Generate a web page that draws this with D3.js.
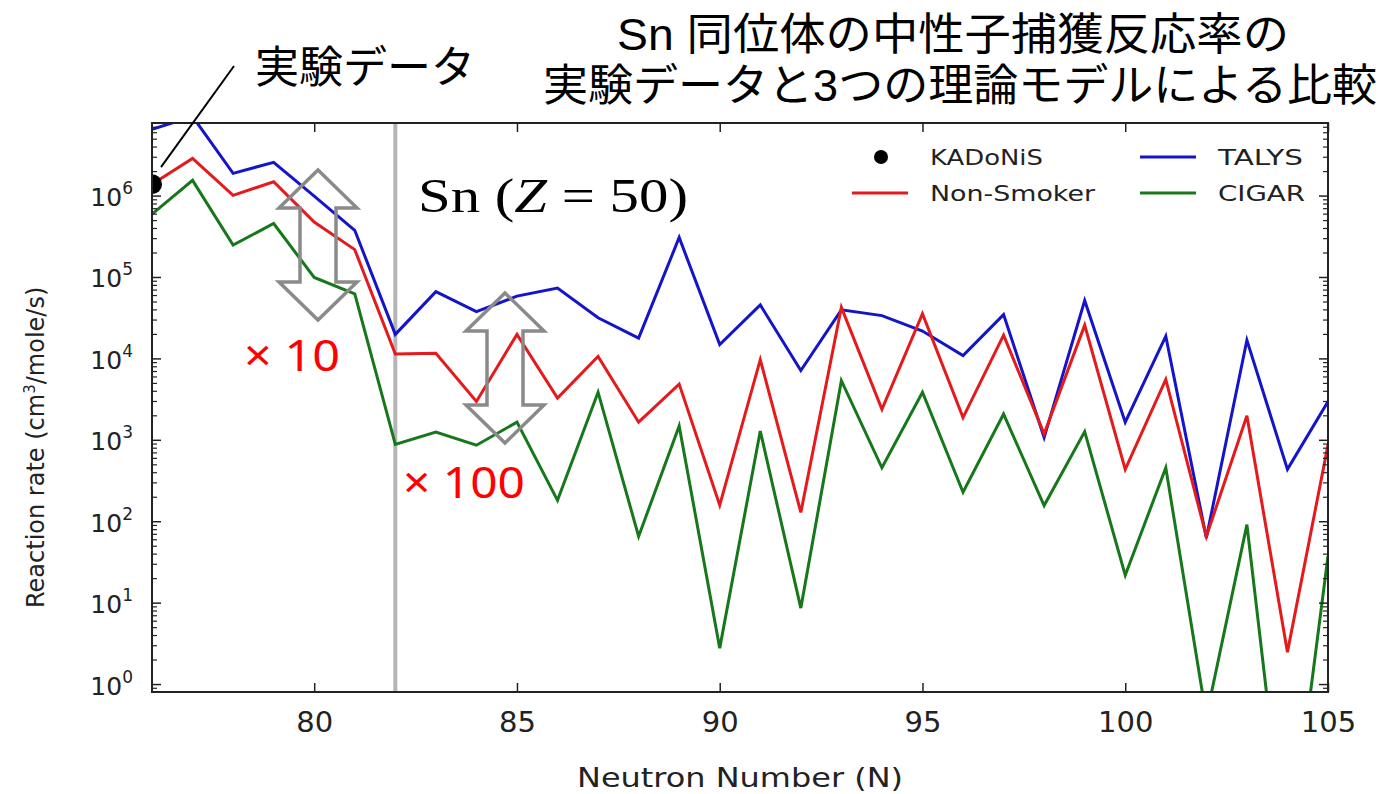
<!DOCTYPE html>
<html>
<head>
<meta charset="utf-8">
<script src="https://cdn.jsdelivr.net/npm/d3@7"></script>
<style>
  body { margin: 0; background: #fff; }
  svg { display: block; }
</style>
</head>
<body>
<svg id="chart" width="1382" height="794"></svg>
<script>
(function () {
  "use strict";

  // neutron numbers of the Sn isotopes
  var neutronNumbers = [76, 77, 78, 79, 80, 81, 82, 83, 84, 85, 86, 87, 88, 89, 90,
    91, 92, 93, 94, 95, 96, 97, 98, 99, 100, 101, 102, 103, 104, 105];

  // reaction rates (cm3/mole/s)
  var talys = [6.6e6, 9.5e6, 1.9e6, 2.6e6, 1.0e6, 3.8e5, 2.0e4, 6.7e4, 3.8e4, 5.9e4,
    7.4e4, 3.2e4, 1.8e4, 3.1e5, 1.5e4, 4.6e4, 7.2e3, 4.0e4, 3.4e4, 2.2e4,
    1.1e4, 3.5e4, 1.08e3, 5.2e4, 1.67e3, 1.9e4, 63, 1.7e4, 440, 3.0e3];
  var nonSmoker = [1.4e6, 2.9e6, 1.02e6, 1.5e6, 4.8e5, 2.2e5, 1.15e4, 1.17e4, 3.0e3, 2.0e4,
    3.3e3, 1.07e4, 1.67e3, 4.9e3, 160, 9.8e3, 130, 4.3e4, 2.4e3, 3.6e4,
    1.9e3, 1.96e4, 1.2e3, 2.6e4, 440, 5.6e3, 66, 2.0e3, 2.5, 880];
  var cigar = [6.0e5, 1.56e6, 2.5e5, 4.6e5, 1.0e5, 6.3e4, 890, 1.26e3, 870, 1.67e3,
    183, 3.9e3, 66, 1.5e3, 2.8, 1.3e3, 8.7, 5.4e3, 460, 3.9e3,
    230, 2.1e3, 158, 1.28e3, 22, 460, 0.4, 92, 0.005, 38];

  // experimental point (KADoNiS)
  var kadonisN = [76];
  var kadonisRate = [1.4e6];

  var xTicks = [80, 85, 90, 95, 100, 105];
  var yTickExponents = [0, 1, 2, 3, 4, 5, 6];

  var series = [
    { name: 'TALYS', color: '#1414c8', values: talys },
    { name: 'Non-Smoker', color: '#e41a1c', values: nonSmoker },
    { name: 'CIGAR', color: '#16781a', values: cigar }
  ];

  var left = 152, right = 1328, top = 123, bottom = 692;
  var tickColor = '#222';
  var sans = '"DejaVu Sans", sans-serif';
  // latin metrics first keep the text boxes tight, glyphs fall back to the CJK face
  var jp = '"Liberation Sans", "Noto Sans CJK JP", sans-serif';

  var svg = d3.select('#chart');

  var x = d3.scaleLinear().domain([76, 105]).range([left, right]);
  var y = d3.scaleLog().domain([0.81, 7.9e6]).range([bottom, top]);

  svg.append('defs').append('clipPath').attr('id', 'plot-clip')
    .append('rect')
    .attr('x', left).attr('y', top)
    .attr('width', right - left).attr('height', bottom - top);

  var plot = svg.append('g').attr('clip-path', 'url(#plot-clip)');

  // magic number line at N = 82
  plot.append('line')
    .attr('x1', x(82)).attr('x2', x(82))
    .attr('y1', top).attr('y2', bottom)
    .attr('stroke', '#b4b4b4').attr('stroke-width', 4);

  var line = d3.line()
    .x(function (d) { return x(d[0]); })
    .y(function (d) { return y(d[1]); });

  series.forEach(function (s) {
    plot.append('path')
      .datum(d3.zip(neutronNumbers, s.values))
      .attr('fill', 'none')
      .attr('stroke', s.color)
      .attr('stroke-width', 3)
      .attr('d', line);
  });

  plot.selectAll('circle.kadonis')
    .data(d3.zip(kadonisN, kadonisRate))
    .enter().append('circle')
    .attr('class', 'kadonis')
    .attr('cx', function (d) { return x(d[0]); })
    .attr('cy', function (d) { return y(d[1]); })
    .attr('r', 10)
    .attr('fill', '#000');

  // axes frame and ticks (matplotlib style, inward)
  var axes = svg.append('g');
  axes.append('rect')
    .attr('x', left).attr('y', top)
    .attr('width', right - left).attr('height', bottom - top)
    .attr('fill', 'none').attr('stroke', tickColor).attr('stroke-width', 2);

  var gxb = axes.append('g').attr('transform', 'translate(0,' + bottom + ')')
    .call(d3.axisBottom(x).tickValues(xTicks).tickSizeInner(-9).tickSizeOuter(0).tickPadding(19));
  gxb.select('.domain').remove();
  gxb.selectAll('line').attr('stroke', tickColor).attr('stroke-width', 1.5);
  gxb.selectAll('text')
    .attr('fill', tickColor)
    .style('font-family', sans)
    .style('font-size', '29px');

  var gxt = axes.append('g').attr('transform', 'translate(0,' + top + ')')
    .call(d3.axisTop(x).tickValues(xTicks).tickSizeInner(-9).tickSizeOuter(0).tickFormat(''));
  gxt.select('.domain').remove();
  gxt.selectAll('line').attr('stroke', tickColor).attr('stroke-width', 1.5);

  // minor ticks 2..9 for every decade in range
  var minorVals = [];
  d3.range(-1, 7).forEach(function (e) {
    d3.range(2, 10).forEach(function (m) {
      var v = m * Math.pow(10, e);
      if (v >= y.domain()[0] && v <= y.domain()[1]) minorVals.push(v);
    });
  });
  var majorVals = yTickExponents.map(function (e) { return Math.pow(10, e); });

  [[left, 1], [right, -1]].forEach(function (side) {
    var g = axes.append('g');
    g.selectAll('line.major').data(majorVals).enter().append('line')
      .attr('x1', side[0]).attr('x2', side[0] + side[1] * 9)
      .attr('y1', function (d) { return y(d); }).attr('y2', function (d) { return y(d); })
      .attr('stroke', tickColor).attr('stroke-width', 1.5);
    g.selectAll('line.minor').data(minorVals).enter().append('line')
      .attr('x1', side[0]).attr('x2', side[0] + side[1] * 5)
      .attr('y1', function (d) { return y(d); }).attr('y2', function (d) { return y(d); })
      .attr('stroke', tickColor).attr('stroke-width', 1.2);
  });

  var yLabels = axes.selectAll('text.ylab').data(yTickExponents).enter().append('text')
    .attr('class', 'ylab')
    .attr('x', 133)
    .attr('y', function (d) { return y(Math.pow(10, d)) + 10; })
    .attr('text-anchor', 'end')
    .attr('fill', tickColor)
    .style('font-family', sans)
    .style('font-size', '25px');
  yLabels.append('tspan').text('10');
  yLabels.append('tspan')
    .attr('dy', -12)
    .style('font-size', '17px')
    .text(function (d) { return d; });

  // axis titles
  svg.append('text')
    .attr('transform', 'translate(44,608) rotate(-90)')
    .attr('fill', tickColor)
    .style('font-family', sans)
    .style('font-size', '24px')
    .html('Reaction rate (cm<tspan dy="-9" font-size="15px">3</tspan><tspan dy="9">/mole/s)</tspan>');

  svg.append('text')
    .attr('x', 577)
    .attr('y', 787)
    .attr('textLength', 326).attr('lengthAdjust', 'spacingAndGlyphs')
    .attr('fill', tickColor)
    .style('font-family', sans)
    .style('font-size', '27px')
    .text('Neutron Number (N)');

  // legend (figure was stretched sideways, so text widths are fixed)
  var legend = svg.append('g').style('font-family', sans).style('font-size', '21px');
  var legendItems = [
    { name: 'KADoNiS', dot: true, color: '#000', lx: 852, ly: 157, w: 113 },
    { name: 'Non-Smoker', color: series[1].color, lx: 852, ly: 193, w: 165 },
    { name: 'TALYS', color: series[0].color, lx: 1140, ly: 157, w: 85 },
    { name: 'CIGAR', color: series[2].color, lx: 1140, ly: 193, w: 87 }
  ];
  legendItems.forEach(function (d) {
    if (d.dot) {
      legend.append('circle').attr('cx', d.lx + 29).attr('cy', d.ly).attr('r', 7).attr('fill', d.color);
    } else {
      legend.append('line')
        .attr('x1', d.lx).attr('x2', d.lx + 56)
        .attr('y1', d.ly).attr('y2', d.ly)
        .attr('stroke', d.color).attr('stroke-width', 3);
    }
    legend.append('text')
      .attr('x', d.lx + 78).attr('y', d.ly + 8)
      .attr('textLength', d.w).attr('lengthAdjust', 'spacingAndGlyphs')
      .attr('fill', tickColor)
      .text(d.name);
  });

  // title, two lines
  svg.append('text')
    .attr('x', 953).attr('y', 50)
    .attr('text-anchor', 'middle')
    .attr('textLength', 672).attr('lengthAdjust', 'spacingAndGlyphs')
    .style('font-family', jp).style('font-size', '44px')
    .text('Sn 同位体の中性子捕獲反応率の');
  svg.append('text')
    .attr('x', 960).attr('y', 101)
    .attr('text-anchor', 'middle')
    .attr('textLength', 834).attr('lengthAdjust', 'spacingAndGlyphs')
    .style('font-family', jp).style('font-size', '44px')
    .text('実験データと3つの理論モデルによる比較');

  svg.append('text')
    .attr('x', 255).attr('y', 83)
    .attr('textLength', 220).attr('lengthAdjust', 'spacingAndGlyphs')
    .style('font-family', jp).style('font-size', '44px')
    .text('実験データ');
  svg.append('line')
    .attr('x1', x(kadonisN[0]) + 9).attr('y1', y(kadonisRate[0]) - 17)
    .attr('x2', 234).attr('y2', 66)
    .attr('stroke', '#000').attr('stroke-width', 2);

  var snLabel = svg.append('text')
    .attr('x', 418).attr('y', 212)
    .attr('textLength', 270).attr('lengthAdjust', 'spacingAndGlyphs')
    .style('font-family', '"Liberation Serif", "DejaVu Serif", serif')
    .style('font-size', '48px');
  snLabel.append('tspan').text('Sn (');
  snLabel.append('tspan').style('font-style', 'italic').text('Z');
  snLabel.append('tspan').text(' = 50)');

  svg.append('text')
    .attr('x', 244).attr('y', 371)
    .attr('textLength', 96).attr('lengthAdjust', 'spacingAndGlyphs')
    .attr('fill', '#ff0000')
    .style('font-family', '"Noto Sans", sans-serif')
    .style('font-size', '44px')
    .text('× 10');
  svg.append('text')
    .attr('x', 403).attr('y', 498)
    .attr('textLength', 122).attr('lengthAdjust', 'spacingAndGlyphs')
    .attr('fill', '#ff0000')
    .style('font-family', '"Noto Sans", sans-serif')
    .style('font-size', '44px')
    .text('× 100');

  // hollow double arrows showing the spread between models
  function doubleArrow(cx, y0, y1, halfHead, halfShaft, headLen) {
    var p = [
      [cx, y0], [cx + halfHead, y0 + headLen], [cx + halfShaft, y0 + headLen],
      [cx + halfShaft, y1 - headLen], [cx + halfHead, y1 - headLen], [cx, y1],
      [cx - halfHead, y1 - headLen], [cx - halfShaft, y1 - headLen],
      [cx - halfShaft, y0 + headLen], [cx - halfHead, y0 + headLen]
    ];
    svg.append('path')
      .attr('d', d3.line()(p) + 'Z')
      .attr('fill', 'none')
      .attr('stroke', '#8a8a8a')
      .attr('stroke-width', 3.5)
      .attr('stroke-linejoin', 'miter');
  }
  doubleArrow(318, 170, 320, 39, 18, 38);
  doubleArrow(505, 293, 443, 39, 18, 38);
}());
</script>
</body>
</html>
